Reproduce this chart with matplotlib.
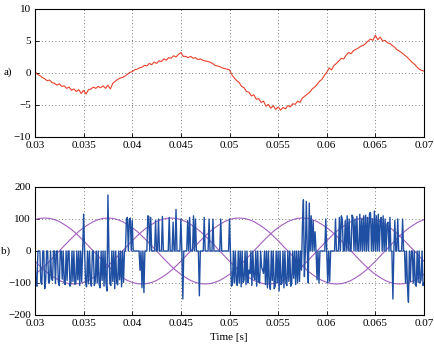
import numpy as np
import matplotlib
matplotlib.use('Agg')
import matplotlib.pyplot as plt

plt.rcParams['font.family'] = ['Liberation Serif', 'DejaVu Serif']
plt.rcParams['font.size'] = 8

# a) signal, sampled every 0.25 ms from 0.03 s to 0.07 s
t_a = np.linspace(0.03, 0.07, 161)
sig_a = [0.2, -0.2, -0.4, -0.7,  -0.9, -1.2, -1.1, -1.5,  -1.6, -1.9, -1.7, -2.1,
         -2.0, -2.4, -2.2, -2.7,  -2.5, -2.9, -2.6, -3.2,  -2.7, -3.3, -2.6, -2.5,
         -2.2, -2.4, -2.1, -2.3,  -2.0, -2.4, -1.9, -2.5,  -1.6, -1.3, -1.0, -0.8,
         -0.7, -0.5, -0.2, 0.1,   0.2, 0.5, 0.6, 0.8,     0.9, 1.2, 1.1, 1.5,
         1.3, 1.7, 1.5, 1.9,      1.8, 2.2, 2.0, 2.4,     2.3, 2.7, 2.5, 2.9,
         3.2, 2.6, 2.6, 2.4,      2.6, 2.3, 2.4, 2.1,     2.2, 2.0, 1.9, 1.8,
         1.7, 1.5, 1.2, 1.1,      1.0, 0.8, 0.7, 0.6,     0.5, -0.3, -0.8, -1.2,
         -1.5, -2.1, -2.3, -2.9,  -3.0, -3.6, -3.4, -4.1, -4.0, -4.6, -4.4, -5.2,
         -4.9, -5.5, -5.1, -5.7,  -5.3, -5.8, -5.4, -5.6, -5.1, -5.3, -4.8, -4.9,
         -4.4, -4.6, -3.9, -3.6,  -3.3, -3.0, -2.5, -2.2, -1.8, -1.3, -1.0, -0.4,
         0.1, 0.8, 0.5, 1.2,      1.5, 1.9, 2.3, 2.2,     2.8, 3.2, 3.0, 3.5,
         3.7, 3.9, 4.2, 4.3,      4.6, 5.0, 5.3, 5.1,     5.9, 5.2, 5.6, 5.0,
         5.1, 4.7, 4.6, 4.3,      4.0, 3.6, 3.4, 3.1,     2.8, 2.5, 2.1, 1.7,
         1.4, 1.0, 0.6, 0.4,      0.3]

# b) three reference waves, sampled every 0.5 ms
t_ref = np.linspace(0.03, 0.07, 81)
ref_1 = [-73, -61, -47, -32, -16, 0, 16, 32, 47, 61, 73, 83, 92, 98, 102,
         103, 102, 98, 92, 83, 73, 61, 47, 32, 16, 0, -16, -32, -47, -61,
         -73, -83, -92, -98, -102, -103, -102, -98, -92, -83, -73, -61, -47, -32, -16,
         0, 16, 32, 47, 61, 73, 83, 92, 98, 102,
         103, 102, 98, 92, 83, 73, 61, 47, 32, 16, 0, -16, -32, -47, -61,
         -73, -83, -92, -98, -102, -103, -102, -98, -92, -83, -73]
ref_2 = [-32, -47, -61, -73, -83, -92, -98, -102, -103, -102, -98, -92, -83, -73,
         -61, -47, -32, -16, 0, 16, 32, 47, 61, 73, 83, 92, 98, 102,
         103, 102, 98, 92, 83, 73, 61, 47, 32, 16, 0, -16, -32, -47, -61,
         -73, -83, -92, -98, -102, -103, -102, -98, -92, -83, -73, -61, -47, -32, -16,
         0, 16, 32, 47, 61, 73, 83, 92, 98, 102,
         103, 102, 98, 92, 83, 73, 61, 47, 32, 16, 0, -16, -32]
ref_3 = [98, 102,
         103, 102, 98, 92, 83, 73, 61, 47, 32, 16, 0, -16, -32, -47, -61,
         -73, -83, -92, -98, -102, -103, -102, -98, -92, -83, -73, -61, -47, -32, -16,
         0, 16, 32, 47, 61, 73, 83, 92, 98, 102,
         103, 102, 98, 92, 83, 73, 61, 47, 32, 16, 0, -16, -32, -47, -61,
         -73, -83, -92, -98, -102, -103, -102, -98, -92, -83, -73, -61, -47, -32, -16,
         0, 16, 32, 47, 61, 73, 83, 92, 98]

# b) switched signal, sampled every 0.1 ms
t_b = np.linspace(0.03, 0.07, 401)
sig_b = [0, -105, -110, 0, 0, 0, -98, -104, 0, 0,
         -118, -90, 0, 0, -100, -95, 0, -85, -92, 0,
         0, -102, 0, 0, -96, -108, 0, 0, -88, 0,
         -100, -105, 0, -92, 0, 0, -110, -98, 0, -95,
         0, -104, -100, 0, -90, 0, -108, 0, -96, 0,
         115, 0, -98, -112, 0, -102, 0, -90, -110, 0,
         0, -108, -95, 0, -100, 0, -105, -115, 0, -92,
         0, -110, 0, -98, -125, 175, 0, -102, -108, 0,
         -95, 0, -118, 0, -100, -106, 0, -90, 0, -112,
         0, -98, 0, 0, 100, 105, 0, 98, 103, 0,
         95, 0, 0, 0, 0, 0, 0, 0, -60, 0,
         -115, 0, -130, 0, 0, 0, 110, 108, 0, 105,
         0, 0, 0, 0, 95, 0, 0, 100, 0, 0,
         0, 108, 0, 0, 0, 0, 0, 0, 105, 0,
         0, 0, 90, 0, 0, 130, 0, 0, 0, 0,
         100, 0, -150, 0, 0, 0, 0, 95, 0, 105,
         0, 0, 0, 110, 0, 100, 0, 0, 0, -140,
         0, 0, 0, 0, 105, 0, 0, 0, 0, 100,
         0, 0, 0, 100, 0, 0, 0, 0, 0, 0,
         0, 100, 0, 0, 0, 0, 0, 0, 0, 0,
         100, 0, -110, -105, 0, -100, 0, -95, -108, 0,
         -100, 0, -112, 0, -98, -90, 0, -105, 0, -100,
         -60, -70, 0, -108, 0, -80, -90, 0, -110, 0,
         -95, -100, 0, -50, -60, -70, 0, -105, 0, -115,
         0, -100, -120, 0, -92, 0, -118, -110, 0, -100,
         0, -125, 0, -105, -98, 0, -115, 0, -100, -108,
         0, -95, 0, -110, -100, 0, -85, 0, -105, 0,
         -100, 0, -95, 0, -60, 80, 160, -80, 0, 155,
         0, -100, 150, 0, 110, 0, 95, 0, 60, 0,
         -90, 0, -100, 0, 0, 0, 0, 0, 0, 100,
         0, -100, 0, -95, 0, 0, 0, 0, 0, 100,
         0, 0, 0, 105, 0, 110, 100, 0, 0, 95,
         0, 110, 0, 100, 0, 0, 112, 105, 0, 100,
         0, 108, 0, 0, 115, 0, 100, 0, 110, 0,
         112, 0, 105, 0, 118, 120, 0, 100, 0, 125,
         0, 110, 0, 115, 0, 95, 105, 0, 110, 0,
         100, 0, 85, 90, 0, 105, 0, 0, -150, 0,
         95, 0, 0, 100, 0, 0, 0, 0, 100, 0,
         0, -100, 0, -110, -160, 0, -95, 0, 0, -100,
         0, -105, -110, 0, -98, 0, -100, -90, 0, -108,
         -100]

xticks = [0.03, 0.035, 0.04, 0.045, 0.05, 0.055, 0.06, 0.065, 0.07]
xticklabels = ['0.03', '0.035', '0.04', '0.045', '0.05', '0.055', '0.06', '0.065', '0.07']

fig = plt.figure(figsize=(4.34, 3.44), dpi=100)
ax1 = fig.add_axes([35/434, 1-137/344, 389/434, 128/344])
ax2 = fig.add_axes([35/434, 1-315/344, 389/434, 128/344])

ax1.plot(t_a, sig_a, color='#e8412c', linewidth=0.8)
ax1.set_ylim(-10, 10)
ax1.set_yticks([-10, -5, 0, 5, 10])

ax2.plot(t_ref, ref_1, color='#a35fbf', linewidth=0.8)
ax2.plot(t_ref, ref_2, color='#a35fbf', linewidth=0.8)
ax2.plot(t_ref, ref_3, color='#a35fbf', linewidth=0.8)
ax2.plot(t_b, sig_b, color='#1f4fa3', linewidth=1.0)
ax2.set_ylim(-200, 200)
ax2.set_yticks([-200, -100, 0, 100, 200])

for ax in (ax1, ax2):
    ax.set_xlim(0.03, 0.07)
    ax.set_xticks(xticks)
    ax.set_xticklabels(xticklabels)
    ax.grid(True, color='#555555', linestyle=(0, (1, 3)), linewidth=0.6)
    ax.tick_params(direction='in', length=3, width=0.6, labelsize=8, pad=3)
    for s in ax.spines.values():
        s.set_linewidth(0.8)

fig.text(12/434, 1-72/344, 'a)', ha='right', va='center', fontsize=8)
fig.text(1/434, 1-251/344, 'b)', ha='left', va='center', fontsize=8)
fig.text(229/434, 1-338/344, 'Time [s]', ha='center', va='center', fontsize=8)

fig.savefig('out.png', dpi=100)
